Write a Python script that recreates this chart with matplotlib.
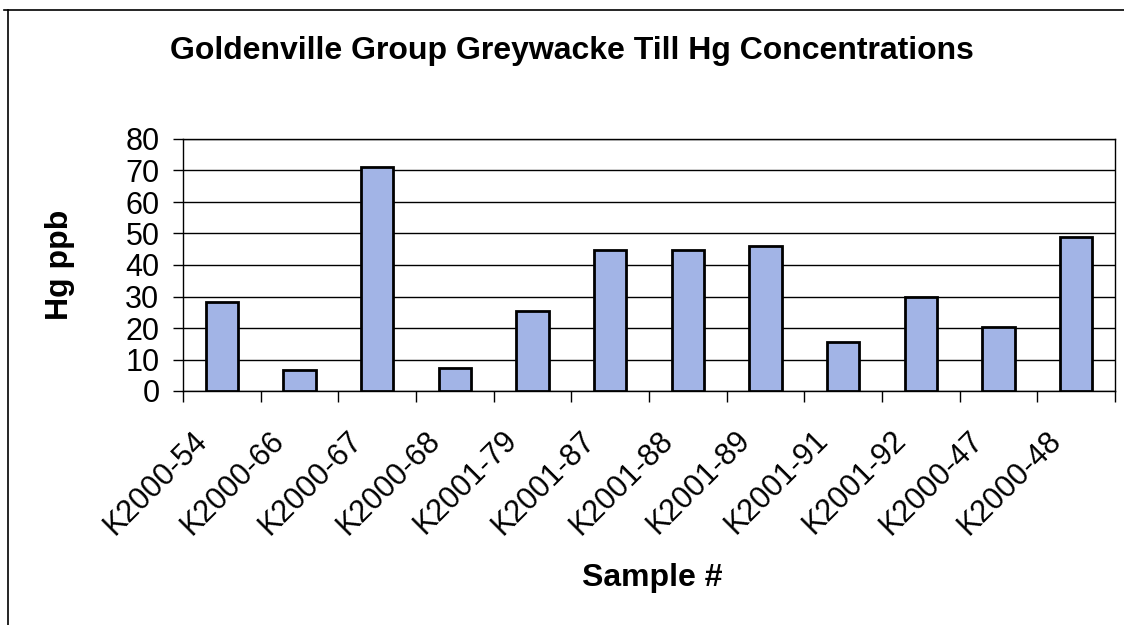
import matplotlib
import matplotlib.pyplot as plt
import matplotlib.transforms as mtransforms
from matplotlib.lines import Line2D
import numpy as np

matplotlib.use("Agg", force=True)

plt.rcParams["font.family"] = ["Liberation Sans", "DejaVu Sans"]

samples = [
    "K2000-54", "K2000-66", "K2000-67", "K2000-68", "K2001-79", "K2001-87",
    "K2001-88", "K2001-89", "K2001-91", "K2001-92", "K2000-47", "K2000-48",
]
hg_ppb = [28.3, 6.7, 71, 7.2, 25.5, 44.7, 44.7, 46, 15.5, 29.9, 20.2, 49]
y_ticks = [0, 10, 20, 30, 40, 50, 60, 70, 80]

BAR_FACE = "#a2b4e6"

fig = plt.figure(figsize=(11.24, 6.25), dpi=100)
ax = fig.add_axes([0.1628, 0.3744, 0.992 - 0.1628, 0.7776 - 0.3744])

x = np.arange(len(samples))
ax.bar(x, hg_ppb, width=0.42, color=BAR_FACE, edgecolor="black", linewidth=2, zorder=3)

ax.set_xlim(-0.5, len(samples) - 0.5)
ax.set_ylim(0, 80)
ax.set_yticks(y_ticks)
ax.set_yticklabels([str(v) for v in y_ticks], fontsize=22)
ax.tick_params(axis="y", direction="out", length=7, width=1, pad=10)

# category labels sit between boundary ticks, Excel style
ax.set_xticks(x)
ax.set_xticklabels(samples, rotation=45, ha="right", va="top",
                   rotation_mode="anchor", fontsize=22)
ax.tick_params(axis="x", length=0, pad=14)
ax.set_xticks(np.arange(len(samples) + 1) - 0.5, minor=True)
ax.tick_params(axis="x", which="minor", direction="out", length=8, width=1)
shift = mtransforms.ScaledTranslation(-0.30, -0.15, fig.dpi_scale_trans)
for lbl in ax.get_xticklabels():
    lbl.set_transform(lbl.get_transform() + shift)

ax.grid(axis="y", color="black", linewidth=1, zorder=1)
for side in ("left", "right", "top", "bottom"):
    ax.spines[side].set_color("black")
    ax.spines[side].set_linewidth(1)

ax.set_ylabel("Hg ppb", fontsize=23, fontweight="bold", labelpad=36)
fig.text(0.58, 0.075, "Sample #", fontsize=23, fontweight="bold",
         ha="center", va="center")
fig.text(0.509, 0.9056, "Goldenville Group Greywacke Till Hg Concentrations",
         fontsize=23, fontweight="bold", ha="center", va="baseline")

# outer chart frame (top and left edges)
fig.add_artist(Line2D([0.004, 1.0], [0.984, 0.984], color="black", linewidth=1.2))
fig.add_artist(Line2D([0.007, 0.007], [0.0, 0.984], color="black", linewidth=1.2))

fig.savefig("out.png", dpi=100)
plt.close(fig)
